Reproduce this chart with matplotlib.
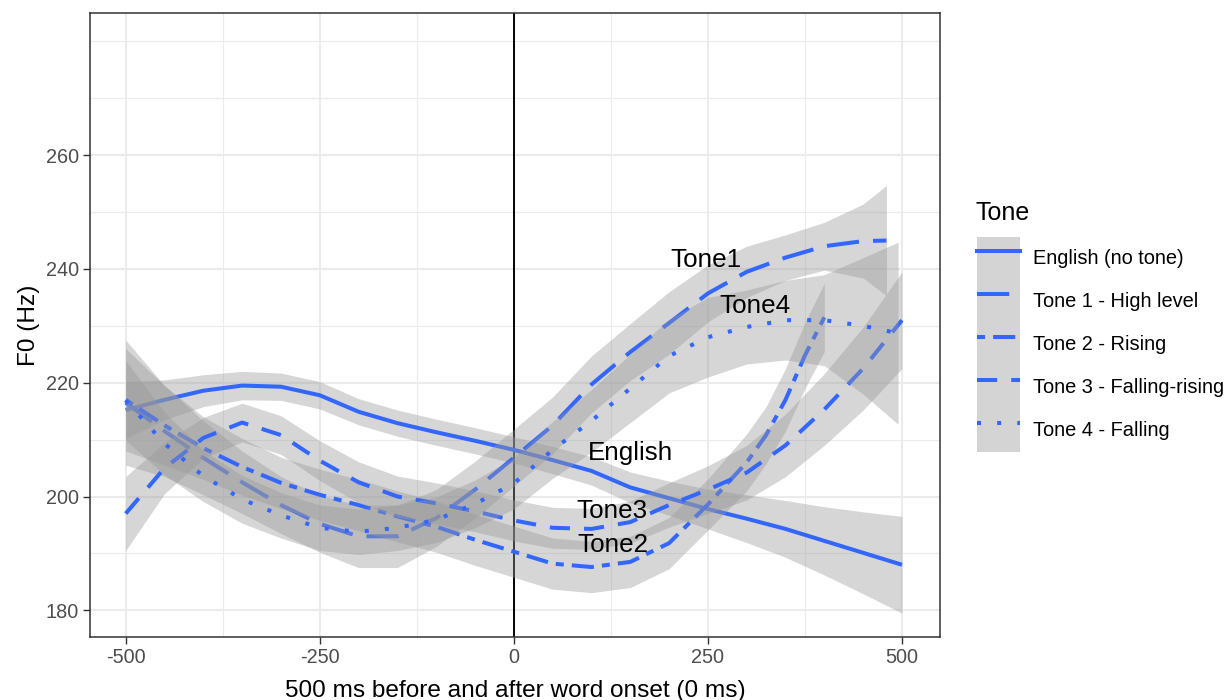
import matplotlib
matplotlib.use("Agg")
import matplotlib.pyplot as plt
from matplotlib.lines import Line2D
from matplotlib.patches import Patch

plt.rcParams['font.family'] = ['Liberation Sans', 'DejaVu Sans']
plt.rcParams['axes.unicode_minus'] = False

# time points (ms relative to word onset)
x50 = [-500, -450, -400, -350, -300, -250, -200, -150, -100, -50, 0,
       50, 100, 150, 200, 250, 300, 350, 400, 450, 500]

english_x = x50
english_y = [215.2, 217.0, 218.6, 219.5, 219.3, 217.8, 214.9, 212.9, 211.3, 209.8, 208.2,
             206.4, 204.5, 201.6, 199.7, 197.8, 196.1, 194.3, 192.2, 190.1, 188.0]
english_se = [5.0, 3.5, 2.8, 2.5, 2.4, 2.4, 2.3, 2.3, 2.3, 2.3, 2.3,
              2.4, 2.5, 2.7, 3.0, 3.5, 4.2, 5.0, 6.0, 7.2, 8.5]

tone1_x = x50[:-1] + [480]
tone1_y = [216.5, 211.5, 206.8, 202.5, 198.5, 195.2, 193.0, 193.0, 196.2, 201.2, 206.8,
           212.5, 219.7, 225.4, 230.5, 235.7, 239.5, 242.0, 244.0, 244.9, 245.0]
tone1_se = [11.0, 8.0, 6.5, 5.5, 5.0, 5.0, 5.5, 5.5, 5.0, 5.0, 5.0,
            5.0, 5.0, 5.0, 5.5, 5.0, 4.5, 4.0, 4.2, 6.5, 9.7]

tone2_x = x50[:17] + [325, 350, 375, 400]
tone2_y = [217.0, 212.5, 208.5, 205.2, 202.4, 200.3, 198.5, 196.5, 194.7, 192.4, 190.3,
           188.2, 187.6, 188.5, 191.8, 198.6, 206.0, 210.8, 217.0, 224.8, 231.5]
tone2_se = [9.0, 7.0, 5.5, 5.0, 4.5, 4.5, 4.5, 4.5, 4.5, 4.5, 4.5,
            4.5, 4.5, 4.5, 4.5, 4.5, 5.0, 5.0, 5.5, 5.8, 6.0]

tone3_x = x50
tone3_y = [197.0, 205.0, 210.3, 213.0, 210.8, 206.3, 202.5, 200.0, 198.8, 197.4, 195.8,
           194.5, 194.3, 195.5, 198.5, 201.2, 204.2, 209.0, 215.3, 222.5, 231.0]
tone3_se = [6.5, 4.5, 3.6, 3.4, 3.4, 3.5, 3.6, 3.6, 3.6, 3.6, 3.6,
            3.6, 3.6, 3.7, 3.9, 4.2, 4.8, 5.5, 6.3, 7.3, 8.5]

tone4_x = x50[:-1] + [495]
tone4_y = [216.9, 209.3, 203.6, 199.5, 196.7, 194.5, 193.8, 194.5, 195.9, 198.7, 202.3,
           208.2, 213.3, 219.0, 224.7, 228.0, 229.8, 231.0, 231.0, 230.0, 228.7]
tone4_se = [7.0, 5.5, 4.5, 4.2, 4.0, 4.0, 4.0, 4.0, 4.0, 4.2, 4.5,
            5.0, 5.5, 6.0, 6.5, 7.0, 6.5, 7.0, 8.0, 12.0, 16.0]

legend_labels = ["English (no tone)", "Tone 1 - High level", "Tone 2 - Rising",
                 "Tone 3 - Falling-rising", "Tone 4 - Falling"]
curve_names = ["English", "Tone1", "Tone2", "Tone3", "Tone4"]
label_x = [150, 248, 127, 127, 311]
label_y = [206.4, 240.3, 190.3, 196.3, 232.3]

x_ticks = [-500, -250, 0, 250, 500]
x_minor = [-375, -125, 125, 375]
y_ticks = [180, 200, 220, 240, 260]
y_minor = [190, 210, 230, 250, 270, 280]

BLUE = "#3366FF"
dashes = [None, (8, 3.5), (2, 2, 5.5, 2), (5, 3.5), (1, 4)]

series = [(english_x, english_y, english_se),
          (tone1_x, tone1_y, tone1_se),
          (tone2_x, tone2_y, tone2_se),
          (tone3_x, tone3_y, tone3_se),
          (tone4_x, tone4_y, tone4_se)]

fig = plt.figure(figsize=(12.27, 7.0), dpi=100)
ax = fig.add_axes([90 / 1227, 1 - 637 / 700, 850 / 1227, 624 / 700])

ax.axvline(0, color="black", lw=1.4, zorder=1)

lw = 2.9
handles = []
for i, (xs, ys, se) in enumerate(series):
    lo = [y - s for y, s in zip(ys, se)]
    hi = [y + s for y, s in zip(ys, se)]
    ax.fill_between(xs, lo, hi, color="#999999", alpha=0.4, lw=0, zorder=2 + 2 * i)
    line, = ax.plot(xs, ys, color=BLUE, lw=lw, zorder=3 + 2 * i, solid_capstyle="butt",
                    dash_capstyle="butt", solid_joinstyle="round")
    if dashes[i] is not None:
        line.set_dashes(dashes[i])
    key_line = Line2D([], [], color=BLUE, lw=lw, dash_capstyle="butt")
    if dashes[i] is not None:
        key_line.set_dashes(dashes[i])
    handles.append((Patch(facecolor="#D4D4D4", edgecolor="none"), key_line))

for name, lx, ly in zip(curve_names, label_x, label_y):
    ax.text(lx, ly, name, fontsize=18.7, ha="center", va="baseline", zorder=20)

ax.set_xlim(-546, 549)
ax.set_ylim(175.3, 285.0)
ax.set_xticks(x_ticks)
ax.set_xticks(x_minor, minor=True)
ax.set_yticks(y_ticks)
ax.set_yticks(y_minor, minor=True)
ax.grid(which="major", color="#EBEBEB", lw=1.5)
ax.grid(which="minor", color="#EBEBEB", lw=0.8)
ax.set_axisbelow(True)
ax.tick_params(which="major", length=5, width=1, color="#333333",
               labelsize=14.3, labelcolor="#4D4D4D", pad=3)
ax.tick_params(which="minor", length=0)
for sp in ax.spines.values():
    sp.set_color("#333333")
    sp.set_linewidth(1.1)

ax.set_xlabel("500 ms before and after word onset (0 ms)", fontsize=17.6, labelpad=9)
ax.set_ylabel("F0 (Hz)", fontsize=17.6, labelpad=4)

# legend: title placed separately so the gap to the keys matches
fig.text(975 / 1227, 1 - 213 / 700, "Tone", fontsize=18, ha="left", va="center")
leg = fig.legend(handles, legend_labels, loc="upper left",
                 bbox_to_anchor=(977 / 1227, 1 - 237 / 700), frameon=False,
                 fontsize=14.4, handlelength=2.15, handleheight=2.93, labelspacing=0,
                 handletextpad=0.65, borderpad=0, borderaxespad=0)

fig.savefig("out.png", dpi=100)
